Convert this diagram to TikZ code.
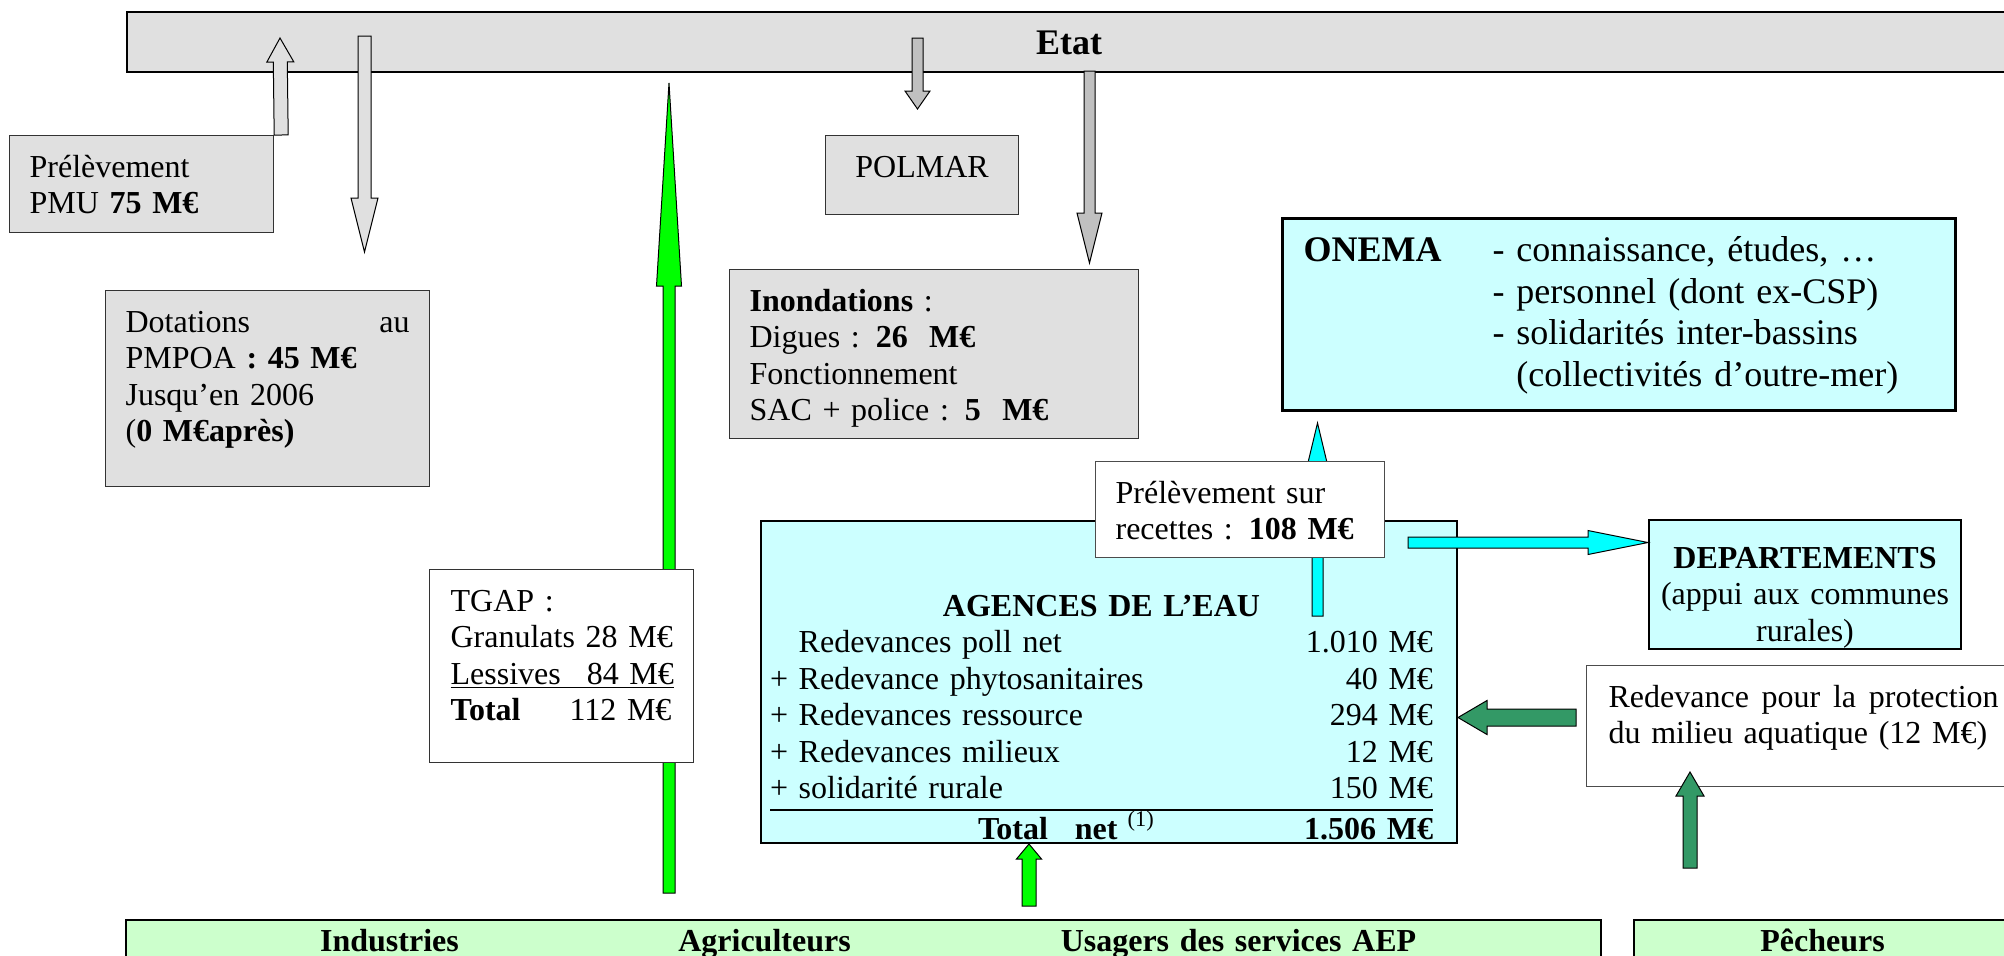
\documentclass[tikz,border=0pt]{standalone}
\usepackage{fontspec}
\setmainfont{Liberation Serif}
\usepackage{xcolor}
\usetikzlibrary{calc,positioning}

\definecolor{boxgray}{HTML}{E0E0E0}
\definecolor{arrowgray}{HTML}{C0C0C0}
\definecolor{lightcyan}{HTML}{CCFFFF}
\definecolor{aqua}{HTML}{00FFFF}
\definecolor{brightgreen}{HTML}{00FF00}
\definecolor{seagreen}{HTML}{339966}
\definecolor{palegreen}{HTML}{CCFFCC}

\setlength{\arrayrulewidth}{0.8pt}

% block arrow: style, from, to, shaft half width, head half width, head length
\newcommand{\blockarrow}[6]{%
  \coordinate (ba-base) at ($(#3)!#6!(#2)$);
  \draw[#1] ($(#2)!#4!90:(#3)$) -- ($(ba-base)!#4!90:(#3)$)
    -- ($(ba-base)!#5!90:(#3)$) -- (#3) -- ($(ba-base)!#5!-90:(#3)$)
    -- ($(ba-base)!#4!-90:(#3)$) -- ($(#2)!#4!-90:(#3)$) -- cycle;}

\begin{document}
\begin{tikzpicture}[x=0.5pt, y=-0.5pt,
    every node/.style={font=\fontsize{16}{18.25}\selectfont},
    box/.style={draw=black!80, line width=0.6pt, rectangle, anchor=north west,
      inner xsep=10pt, inner ysep=0pt, text height=20.75pt, align=left},
    graybox/.style={box, fill=boxgray},
    cyanbox/.style={box, fill=lightcyan, draw=black, line width=1pt},
    whitebox/.style={box, fill=white},
    barbox/.style={box, fill=palegreen, draw=black, line width=1pt, inner xsep=0pt,
      text height=15.5pt, text depth=12.5pt, font=\fontsize{16}{18.25}\selectfont\bfseries},
    arr/.style={draw=black, line width=0.5pt, line join=miter}]

  \useasboundingbox (0,0) rectangle (2004,955);
  \clip (0,0) rectangle (2004,955);

  \node[graybox, draw=black, line width=1pt, inner xsep=0pt, text width=942pt, align=center,
    text height=21pt, text depth=9pt, font=\fontsize{18}{21}\selectfont\bfseries] (etat) at (126,11) {Etat};

  \coordinate (tgap-out) at (669,893);
  \coordinate (tgap-tip) at (669,83);
  \blockarrow{arr, fill=brightgreen}{tgap-out}{tgap-tip}{3pt}{6.25pt}{101.5pt}

  \node[graybox, text width=112pt, text depth=27.75pt] (pmu) at (9,135)
    {Prélèvement\\PMU \textbf{75 M€}};
  \node[graybox, text width=142pt, text depth=77.25pt] (dotations) at (105,290)
    {Dotations\hfill au\\PMPOA \textbf{: 45 M€}\\Jusqu’en 2006\\(\textbf{0 M€après)}};
  \node[graybox, text width=76.5pt, align=center, text depth=18.75pt] (polmar) at (825,135) {POLMAR};
  \node[graybox, text width=184.5pt, text depth=63.75pt] (inondations) at (729,269)
    {\textbf{Inondations} :\\Digues : \textbf{26\ \ M€}\\Fonctionnement\\SAC + police : \textbf{5\ \ M€}};

  \node[cyanbox, line width=1.5pt, inner xsep=10.5pt, text width=315.5pt, text height=21.5pt,
    text depth=74.5pt, font=\fontsize{18}{20.8}\selectfont] (onema) at (1281,217)
    {\makebox[94.5pt][l]{\textbf{ONEMA}}- connaissance, études, …\\
     \hspace*{94.5pt}- personnel (dont ex-CSP)\\
     \hspace*{94.5pt}- solidarités inter-bassins\\
     \hspace*{94.5pt}\hphantom{- }(collectivités d’outre-mer)};

  \node[cyanbox, inner xsep=4.5pt, text width=339pt, text height=47.5pt, text depth=113.5pt] (agences) at (760,520)
    {\begin{tabular*}{331.5pt}[t]{@{}l@{\extracolsep{\fill}}r@{}}
      \multicolumn{2}{c}{\textbf{AGENCES DE L’EAU}}\\
      \hphantom{+ }Redevances poll net & 1.010 M€\\
      + Redevance phytosanitaires & 40 M€\\
      + Redevances ressource & 294 M€\\
      + Redevances milieux & 12 M€\\
      + solidarité rurale & 150 M€\\ \hline
      \hspace*{104pt}\textbf{Total}\hspace{13.5pt}\textbf{net}\hspace{5pt}\textsuperscript{(1)} & \textbf{1.506 M€}
    \end{tabular*}};

  \node[whitebox, inner xsep=10.5pt, text width=111pt, text depth=75.75pt] (tgap) at (429,569)
    {TGAP :\\\mbox{Granulats 28 M€}\\\mbox{\underline{Lessives\hspace{13pt}84 M€}}\\\mbox{\textbf{Total}\hspace{24.5pt}112 M€}};

  \coordinate (onema-out) at (1317.5,616);
  \coordinate (onema-tip) at (1317.5,423);
  \blockarrow{arr, fill=aqua}{onema-out}{onema-tip}{2.75pt}{6pt}{25pt}

  \node[whitebox, draw=black!70, text width=124.5pt, text depth=27.25pt] (recettes) at (1095,461)
    {Prélèvement sur\\recettes : \textbf{108 M€}};
  \node[cyanbox, align=center, inner xsep=5pt, text width=146pt, text height=24pt, text depth=40.5pt] (departements) at (1648,519)
    {\textbf{DEPARTEMENTS}\\(appui aux communes\\rurales)};
  \node[whitebox, draw=black!70, inner xsep=11pt, text width=195pt, text depth=39.75pt] (redevance) at (1586,665)
    {Redevance\hfill pour\hfill la\hfill protection\\du milieu aquatique (12 M€)};

  \node[barbox, text width=737.5pt] (usagers) at (125,919)
    {\makebox[263.5pt]{Industries}\makebox[111.5pt]{Agriculteurs}\makebox[362.5pt]{Usagers des services AEP}};
  \node[barbox, text width=188.5pt, align=center] (pecheurs) at (1633,919) {Pêcheurs};

  \coordinate (pmu-out) at ([xshift=3.5pt]pmu.north east);
  \coordinate (pmu-tip) at (280,38);
  \blockarrow{arr, fill=boxgray}{pmu-out}{pmu-tip}{3.5pt}{6.75pt}{12pt}

  \coordinate (dot-out) at (364.5,36);
  \coordinate (dot-tip) at (364.5,252);
  \blockarrow{arr, fill=boxgray}{dot-out}{dot-tip}{3.25pt}{6.75pt}{27pt}

  \coordinate (polmar-out) at (917.5,38);
  \coordinate (polmar-tip) at (917.5,109);
  \blockarrow{arr, fill=arrowgray}{polmar-out}{polmar-tip}{2.75pt}{6.25pt}{9pt}

  \coordinate (inond-out) at (1089.5,71);
  \coordinate (inond-tip) at (1089.5,263);
  \blockarrow{arr, fill=arrowgray}{inond-out}{inond-tip}{2.75pt}{6.25pt}{25pt}

  \coordinate (dep-out) at (1408,542.5);
  \coordinate (dep-tip) at (departements.west |- dep-out);
  \blockarrow{arr, fill=aqua}{dep-out}{dep-tip}{2.75pt}{6pt}{30pt}

  \coordinate (red-out) at (1576,717.5);
  \coordinate (red-tip) at (agences.east |- red-out);
  \blockarrow{arr, fill=seagreen}{red-out}{red-tip}{4.25pt}{8.5pt}{14.5pt}

  \coordinate (pech-out) at (1690,868);
  \coordinate (pech-tip) at (1690,772);
  \blockarrow{arr, fill=seagreen}{pech-out}{pech-tip}{3.5pt}{7pt}{12pt}

  \coordinate (aep-out) at (1029,906);
  \coordinate (aep-tip) at (agences.south -| aep-out);
  \blockarrow{arr, fill=brightgreen}{aep-out}{aep-tip}{3.5pt}{6.25pt}{7.5pt}
\end{tikzpicture}
\end{document}
